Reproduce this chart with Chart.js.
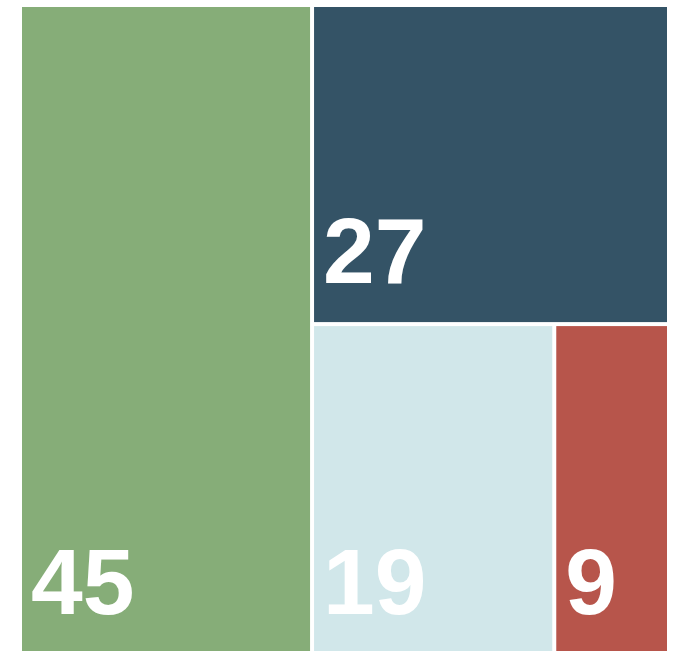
<!DOCTYPE html>
<html>
<head>
<meta charset="utf-8">
<script src="https://cdn.jsdelivr.net/npm/chart.js@4/dist/chart.umd.min.js"></script>
<style>
  html, body { margin: 0; padding: 0; background: #fff; overflow: hidden; }
  #wrap { width: 674px; height: 655px; position: relative; }
</style>
</head>
<body>
<div id="wrap"><canvas id="treeChart"></canvas></div>
<script>
// du lieu treemap
const labels = ['A', 'B', 'C', 'D'];
const values = [45, 27, 19, 9];
const colors = ['#86ad78', '#345366', '#d1e7ea', '#b7554b'];

// chia o: tach phan tu dau voi phan con lai, xen ke doc / ngang
function layoutTree(vals, x0, y0, x1, y1, vertical, out) {
    if (vals.length === 0) return;
    if (vals.length === 1) {
        out.push({ x0: x0, y0: y0, x1: x1, y1: y1 });
        return;
    }
    const total = vals.reduce((a, b) => a + b, 0);
    const f = vals[0] / total;
    if (vertical) {
        const xm = x0 + (x1 - x0) * f;
        out.push({ x0: x0, y0: y0, x1: xm, y1: y1 });
        layoutTree(vals.slice(1), xm, y0, x1, y1, !vertical, out);
    } else {
        const ym = y1 - (y1 - y0) * f;
        out.push({ x0: x0, y0: ym, x1: x1, y1: y1 });
        layoutTree(vals.slice(1), x0, y0, x1, ym, !vertical, out);
    }
}

const treePlugin = {
    id: 'treePlugin',
    beforeDatasetsDraw(chart) {
        const ctx = chart.ctx;
        const xs = chart.scales.x, ys = chart.scales.y;
        const rects = [];
        layoutTree(values, 0, 0, 100, 100, true, rects);
        const gap = 2;
        ctx.save();
        rects.forEach((r, i) => {
            const left = xs.getPixelForValue(r.x0) + gap;
            const right = xs.getPixelForValue(r.x1) - gap;
            const top = ys.getPixelForValue(r.y1) + gap;
            const bottom = ys.getPixelForValue(r.y0) - gap;
            ctx.fillStyle = colors[i];
            ctx.fillRect(left, top, right - left, bottom - top);
            ctx.fillStyle = '#ffffff';
            ctx.font = 'bold 93px "Liberation Sans", Arial, sans-serif';
            ctx.textAlign = 'left';
            ctx.textBaseline = 'alphabetic';
            ctx.fillText(String(values[i]), left + 9, bottom - 39);
        });
        ctx.restore();
    }
};

function renderChart() {
    const ctx = document.getElementById('treeChart').getContext('2d');
    new Chart(ctx, {
        type: 'scatter',
        data: {
            datasets: [{ label: 'treemap', data: [] }]
        },
        options: {
            responsive: true,
            maintainAspectRatio: false,
            animation: false,
            layout: { padding: { left: 20, right: 5, top: 5, bottom: 0 } },
            plugins: { legend: { display: false }, tooltip: { enabled: false } },
            scales: {
                x: { type: 'linear', min: 0, max: 100, display: false },
                y: { type: 'linear', min: 0, max: 100, display: false }
            }
        },
        plugins: [treePlugin]
    });
}

window.onload = function () {
    renderChart();
};
</script>
</body>
</html>
